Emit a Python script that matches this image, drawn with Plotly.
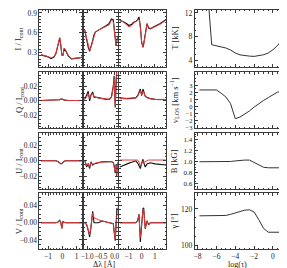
import plotly.graph_objects as go

# ---------------- data ----------------
# wavelength grids of the three spectral windows [Angstrom]
dl_A = [-1.5, -1.25, -1.0, -0.8, -0.6, -0.45, -0.3, -0.18, -0.1, -0.03, 0.05, 0.13, 0.25, 0.42, 0.65, 1.0, 1.2, 1.4]
dl_B = [-1.09, -1.02, -0.96, -0.91, -0.86, -0.8, -0.75, -0.7, -0.59, -0.45, -0.3, -0.2, -0.12, -0.05, -0.02, 0.02, 0.05, 0.08, 0.11]
dl_C = [-1.65, -1.4, -1.15, -0.95, -0.75, -0.6, -0.45, -0.3, -0.2, -0.1, 0.0, 0.1, 0.15, 0.27, 0.4, 0.52, 0.65, 1.0, 1.4, 1.85]

# Stokes I / Icont
I_A_obs = [0.265, 0.255, 0.235, 0.21, 0.23, 0.28, 0.43, 0.52, 0.40, 0.26, 0.26, 0.36, 0.32, 0.25, 0.205, 0.21, 0.22, 0.23]
I_A_fit = [0.27, 0.26, 0.24, 0.22, 0.235, 0.29, 0.42, 0.53, 0.42, 0.27, 0.25, 0.37, 0.33, 0.26, 0.21, 0.21, 0.22, 0.235]
I_B_obs = [0.64, 0.49, 0.38, 0.32, 0.38, 0.48, 0.57, 0.61, 0.64, 0.67, 0.71, 0.74, 0.81, 0.80, 0.68, 0.50, 0.40, 0.46, 0.55]
I_B_fit = [0.64, 0.50, 0.39, 0.335, 0.38, 0.47, 0.56, 0.61, 0.64, 0.67, 0.70, 0.72, 0.79, 0.77, 0.66, 0.50, 0.41, 0.45, 0.55]
I_C_obs = [0.785, 0.77, 0.74, 0.71, 0.73, 0.76, 0.77, 0.80, 0.84, 0.70, 0.45, 0.38, 0.43, 0.57, 0.74, 0.67, 0.66, 0.70, 0.74, 0.80]
I_C_fit = [0.78, 0.77, 0.72, 0.69, 0.71, 0.75, 0.77, 0.79, 0.81, 0.68, 0.46, 0.39, 0.42, 0.56, 0.73, 0.69, 0.66, 0.69, 0.73, 0.795]

# Stokes Q / Icont
Q_A_obs = [0.0005, 0.0005, 0.0005, 0.0005, 0.0005, 0.0005, 0.0008, 0.0015, 0.0025, 0.0025, 0.002, 0.001, 0.0005, 0.0005, 0.0005, 0.0005, 0.0005, 0.0005]
Q_A_fit = [0.0005, 0.0005, 0.0005, 0.0005, 0.0005, 0.0005, 0.0008, 0.0015, 0.0025, 0.0025, 0.002, 0.001, 0.0005, 0.0005, 0.0005, 0.0005, 0.0005, 0.0005]
Q_B_obs = [0.002, 0.008, 0.013, 0.0, 0.008, 0.012, 0.005, 0.005, 0.004, 0.003, 0.002, 0.002, 0.005, 0.020, 0.034, -0.009, 0.032, 0.05, 0.05]
Q_B_fit = [0.002, 0.005, 0.010, 0.003, 0.007, 0.010, 0.006, 0.005, 0.004, 0.003, 0.002, 0.002, 0.004, 0.018, 0.030, -0.006, 0.028, 0.045, 0.05]
Q_C_obs = [0.004, 0.003, 0.003, 0.003, 0.003, 0.003, 0.004, 0.007, 0.013, 0.016, 0.007, 0.016, 0.013, 0.006, 0.005, 0.004, 0.003, 0.002, 0.002, 0.0015]
Q_C_fit = [0.003, 0.003, 0.003, 0.003, 0.003, 0.003, 0.004, 0.006, 0.011, 0.014, 0.008, 0.013, 0.012, 0.006, 0.004, 0.003, 0.003, 0.002, 0.002, 0.002]

# Stokes U / Icont
U_A_obs = [0.0, 0.0, 0.0, 0.0, 0.0, 0.0, -0.001, -0.003, -0.004, -0.0035, -0.002, -0.0005, 0.0, 0.0, 0.0, 0.0, 0.0, 0.0]
U_A_fit = [0.0, 0.0, 0.0, 0.0, 0.0, 0.0, -0.001, -0.003, -0.004, -0.0035, -0.002, -0.0005, 0.0, 0.0, 0.0, 0.0, 0.0, 0.0]
U_B_obs = [0.001, -0.008, -0.0035, -0.010, -0.0013, -0.0055, -0.004, -0.0035, -0.002, -0.0013, -0.001, -0.001, -0.0013, -0.002, -0.006, -0.016, -0.005, -0.021, -0.002]
U_B_fit = [0.001, -0.006, -0.004, -0.008, -0.002, -0.005, -0.004, -0.003, -0.002, -0.0015, -0.001, -0.001, -0.001, -0.002, -0.007, -0.014, -0.006, -0.018, -0.003]
U_C_obs = [-0.008, -0.006, -0.004, -0.003, -0.002, -0.001, 0.0, -0.003, -0.007, -0.010, -0.003, 0.002, -0.002, -0.008, -0.004, -0.003, -0.0026, -0.004, -0.005, -0.0055]
U_C_fit = [0.001, 0.001, 0.001, 0.001, 0.001, 0.001, 0.001, 0.001, -0.002, -0.007, -0.004, 0.0, -0.002, -0.001, 0.001, 0.001, 0.001, 0.001, 0.001, 0.001]

# Stokes V / Icont
V_A_obs = [0.0, 0.0, 0.0, 0.0, 0.0, 0.0, 0.002, 0.006, 0.0, -0.013, 0.004, 0.001, 0.0, 0.0, 0.0, 0.0, 0.0, 0.0]
V_A_fit = [0.0, 0.0, 0.0, 0.0, 0.0, 0.0, 0.002, 0.006, 0.0, -0.013, 0.004, 0.001, 0.0, 0.0, 0.0, 0.0, 0.0, 0.0]
V_B_obs = [0.0, -0.004, -0.018, -0.033, -0.010, 0.027, 0.0, 0.0, 0.0, 0.004, 0.002, 0.001, 0.0, -0.002, -0.020, -0.042, -0.005, 0.033, 0.035]
V_B_fit = [0.0, -0.004, -0.016, -0.028, -0.008, 0.022, 0.012, 0.010, 0.007, 0.004, 0.002, 0.001, 0.0, -0.002, -0.018, -0.038, -0.004, 0.028, 0.034]
V_C_obs = [0.0, 0.0, 0.0, 0.0, 0.0, 0.0, 0.0, 0.005, 0.020, -0.045, 0.005, 0.033, 0.035, -0.014, 0.005, -0.005, 0.0, 0.0, 0.0, 0.0]
V_C_fit = [0.0, 0.0, 0.0, 0.0, 0.0, 0.0, 0.0, 0.006, 0.018, -0.035, 0.0, 0.030, 0.032, -0.012, 0.004, -0.004, 0.0, 0.0, 0.0, 0.0]

# inverted atmosphere versus optical depth
log_tau = [-7.8, -7.4, -7.0, -6.5, -6.0, -5.5, -5.0, -4.5, -4.0, -3.5, -3.0, -2.5, -2.0, -1.5, -1.0, -0.5, 0.0, 0.5, 1.0]
T_kK = [30.0, 24.0, 17.0, 6.6, 6.4, 6.25, 6.05, 5.7, 5.2, 4.88, 4.75, 4.67, 4.62, 4.7, 4.9, 5.2, 5.75, 6.5, 7.5]
v_los = [2.35, 2.35, 2.35, 2.35, 2.35, 1.88, 1.35, 0.4, -1.75, -1.52, -1.14, -0.65, -0.09, 0.41, 0.85, 1.26, 1.72, 2.05, 2.1]
B_kG = [1.0, 1.0, 1.0, 1.0, 1.0, 1.0, 1.0, 1.005, 1.015, 1.025, 1.03, 1.03, 0.99, 0.94, 0.90, 0.89, 0.89, 0.89, 0.89]
gamma_deg = [116.2, 116.2, 116.2, 116.2, 116.2, 116.2, 116.4, 117.0, 117.8, 118.6, 119.3, 119.5, 118.3, 114.0, 109.3, 107.2, 107.2, 107.2, 107.2]

# ---------------- layout helpers ----------------
W, H = 287, 268
FONT = "Liberation Serif"
AX = "#3a3a3a"
RED = "#e8383a"
TICKSIZE = 7.5


def dx(a, b):
    return [a / W, b / W]


def dy(top, bottom):
    return [1 - bottom / H, 1 - top / H]


cols = {"A": dx(29, 72.5), "B": dx(74, 108.5), "C": dx(110, 158)}
xranges = {"A": [-1.6, 1.4], "B": [-1.125, 0.107], "C": [-1.7, 1.85]}
xticks = {"A": dict(tickvals=[-1, 0, 1], ticktext=["−1", "0", "1"], minor=0.2, size=TICKSIZE),
          "B": dict(tickvals=[-1.0, -0.5, 0.0], ticktext=["−1.0", "−0.5", "0.0"], minor=0.1, size=7.2),
          "C": dict(tickvals=[-1, 0, 1], ticktext=["−1", "0", "1"], minor=0.2, size=TICKSIZE)}
rows = [dy(1, 59), dy(64, 121), dy(126, 183), dy(187, 244)]
yranges = [[0.08, 0.945], [-0.037, 0.039], [-0.037, 0.036], [-0.062, 0.069]]
yticks = [dict(tickvals=[0.3, 0.6, 0.9], ticktext=["0.3", "0.6", "0.9"], minor=0.05),
          dict(tickvals=[-0.02, 0.0, 0.02], ticktext=["−0.02", "0.00", "0.02"], minor=0.005),
          dict(tickvals=[-0.02, 0.0, 0.02], ticktext=["−0.02", "0.00", "0.02"], minor=0.005),
          dict(tickvals=[-0.04, 0.0, 0.04], ticktext=["−0.04", "0.00", "0.04"], minor=0.01)]

obs = {"A": [I_A_obs, Q_A_obs, U_A_obs, V_A_obs],
       "B": [I_B_obs, Q_B_obs, U_B_obs, V_B_obs],
       "C": [I_C_obs, Q_C_obs, U_C_obs, V_C_obs]}
fit = {"A": [I_A_fit, Q_A_fit, U_A_fit, V_A_fit],
       "B": [I_B_fit, Q_B_fit, U_B_fit, V_B_fit],
       "C": [I_C_fit, Q_C_fit, U_C_fit, V_C_fit]}
grids = {"A": dl_A, "B": dl_B, "C": dl_C}


def axis_common(size=TICKSIZE):
    return dict(showline=True, linecolor=AX, linewidth=1, mirror="allticks",
                ticks="inside", ticklen=3, tickwidth=0.8, tickcolor=AX,
                showgrid=False, zeroline=False, tickangle=0,
                tickfont=dict(family=FONT, size=size, color="#222"))


fig = go.Figure()
layout = {}
n = 0
for r in range(4):
    for c in ["A", "B", "C"]:
        n += 1
        xa = "xaxis" if n == 1 else f"xaxis{n}"
        ya = "yaxis" if n == 1 else f"yaxis{n}"
        xref = "x" if n == 1 else f"x{n}"
        yref = "y" if n == 1 else f"y{n}"
        xt = xticks[c]
        yt = yticks[r]
        xd = axis_common(xt["size"])
        xd.update(domain=cols[c], range=xranges[c], anchor=yref,
                  tickvals=xt["tickvals"], ticktext=xt["ticktext"],
                  showticklabels=(r == 3),
                  minor=dict(ticks="inside", ticklen=1.5, dtick=xt["minor"], tickcolor=AX, tickwidth=0.6))
        yd = axis_common()
        yd.update(domain=rows[r], range=yranges[r], anchor=xref,
                  tickvals=yt["tickvals"], ticktext=yt["ticktext"],
                  showticklabels=(c == "A"),
                  minor=dict(ticks="inside", ticklen=1.5, dtick=yt["minor"], tickcolor=AX, tickwidth=0.6))
        layout[xa] = xd
        layout[ya] = yd
        fig.add_trace(go.Scatter(x=grids[c], y=obs[c][r], mode="lines",
                                 line=dict(color="#111", width=1.1),
                                 xaxis=xref, yaxis=yref, showlegend=False))
        fig.add_trace(go.Scatter(x=grids[c], y=fit[c][r], mode="lines",
                                 line=dict(color=RED, width=1),
                                 xaxis=xref, yaxis=yref, showlegend=False))

# right column: atmosphere
right_y = [T_kK, v_los, B_kG, gamma_deg]
right_ranges = [[2.8, 12.5], [-3.1, 4.9], [0.5, 1.52], [97.8, 128.6]]
right_ticks = [dict(tickvals=[4, 8, 12], ticktext=["4", "8", "12"], minor=1),
               dict(tickvals=[-3, -2, -1, 0, 1, 2, 3], ticktext=["−3", "−2", "−1", "0", "1", "2", "3"], minor=0.5),
               dict(tickvals=[0.6, 0.8, 1.0, 1.2, 1.4], ticktext=["0.6", "0.8", "1.0", "1.2", "1.4"], minor=0.05),
               dict(tickvals=[100, 120], ticktext=["100", "120"], minor=5)]
right_sizes = [TICKSIZE, 6.5, 7, TICKSIZE]
for r in range(4):
    n += 1
    xa, ya = f"xaxis{n}", f"yaxis{n}"
    xref, yref = f"x{n}", f"y{n}"
    xd = axis_common()
    xd.update(domain=dx(187, 281), range=[-8.3, 1.5], anchor=yref,
              tickvals=[-8, -6, -4, -2, 0], ticktext=["−8", "−6", "−4", "−2", "0"],
              showticklabels=(r == 3),
              minor=dict(ticks="inside", ticklen=1.5, dtick=0.5, tickcolor=AX, tickwidth=0.6))
    yd = axis_common(right_sizes[r])
    rt = right_ticks[r]
    yd.update(domain=rows[r], range=right_ranges[r], anchor=xref,
              tickvals=rt["tickvals"], ticktext=rt["ticktext"],
              minor=dict(ticks="inside", ticklen=1.5, dtick=rt["minor"], tickcolor=AX, tickwidth=0.6))
    layout[xa] = xd
    layout[ya] = yd
    fig.add_trace(go.Scatter(x=log_tau, y=right_y[r], mode="lines",
                             line=dict(color="#333", width=1),
                             xaxis=xref, yaxis=yref, showlegend=False))

# axis titles
ann = []
left_titles = ["I / I<sub>cont</sub>", "Q / I<sub>cont</sub>", "U / I<sub>cont</sub>", "V / I<sub>cont</sub>"]
right_titles = ["T [kK]", "v<sub>LOS</sub> [km s<sup>−1</sup>]", "B [kG]", "γ [°]"]
for r in range(4):
    yc = (rows[r][0] + rows[r][1]) / 2
    ann.append(dict(text=left_titles[r], x=8 / W, y=yc, xref="paper", yref="paper",
                    textangle=-90, showarrow=False, xanchor="center", yanchor="middle",
                    font=dict(family=FONT, size=8.5, color="#222")))
    ann.append(dict(text=right_titles[r], x=166 / W, y=yc, xref="paper", yref="paper",
                    textangle=-90, showarrow=False, xanchor="center", yanchor="middle",
                    font=dict(family=FONT, size=8.5, color="#222")))
ann.append(dict(text="Δλ [Å]", x=95 / W, y=1 - 259.5 / H, xref="paper", yref="paper",
                showarrow=False, xanchor="center", yanchor="middle", borderpad=0,
                font=dict(family=FONT, size=8, color="#222")))
ann.append(dict(text="log(τ)", x=231 / W, y=1 - 259.5 / H, xref="paper", yref="paper",
                showarrow=False, xanchor="center", yanchor="middle", borderpad=0,
                font=dict(family=FONT, size=8, color="#222")))

fig.update_layout(**layout)
fig.update_layout(width=W, height=H, margin=dict(l=0, r=0, t=0, b=0),
                  paper_bgcolor="white", plot_bgcolor="white",
                  annotations=ann, showlegend=False)
fig.write_html("out.html")
